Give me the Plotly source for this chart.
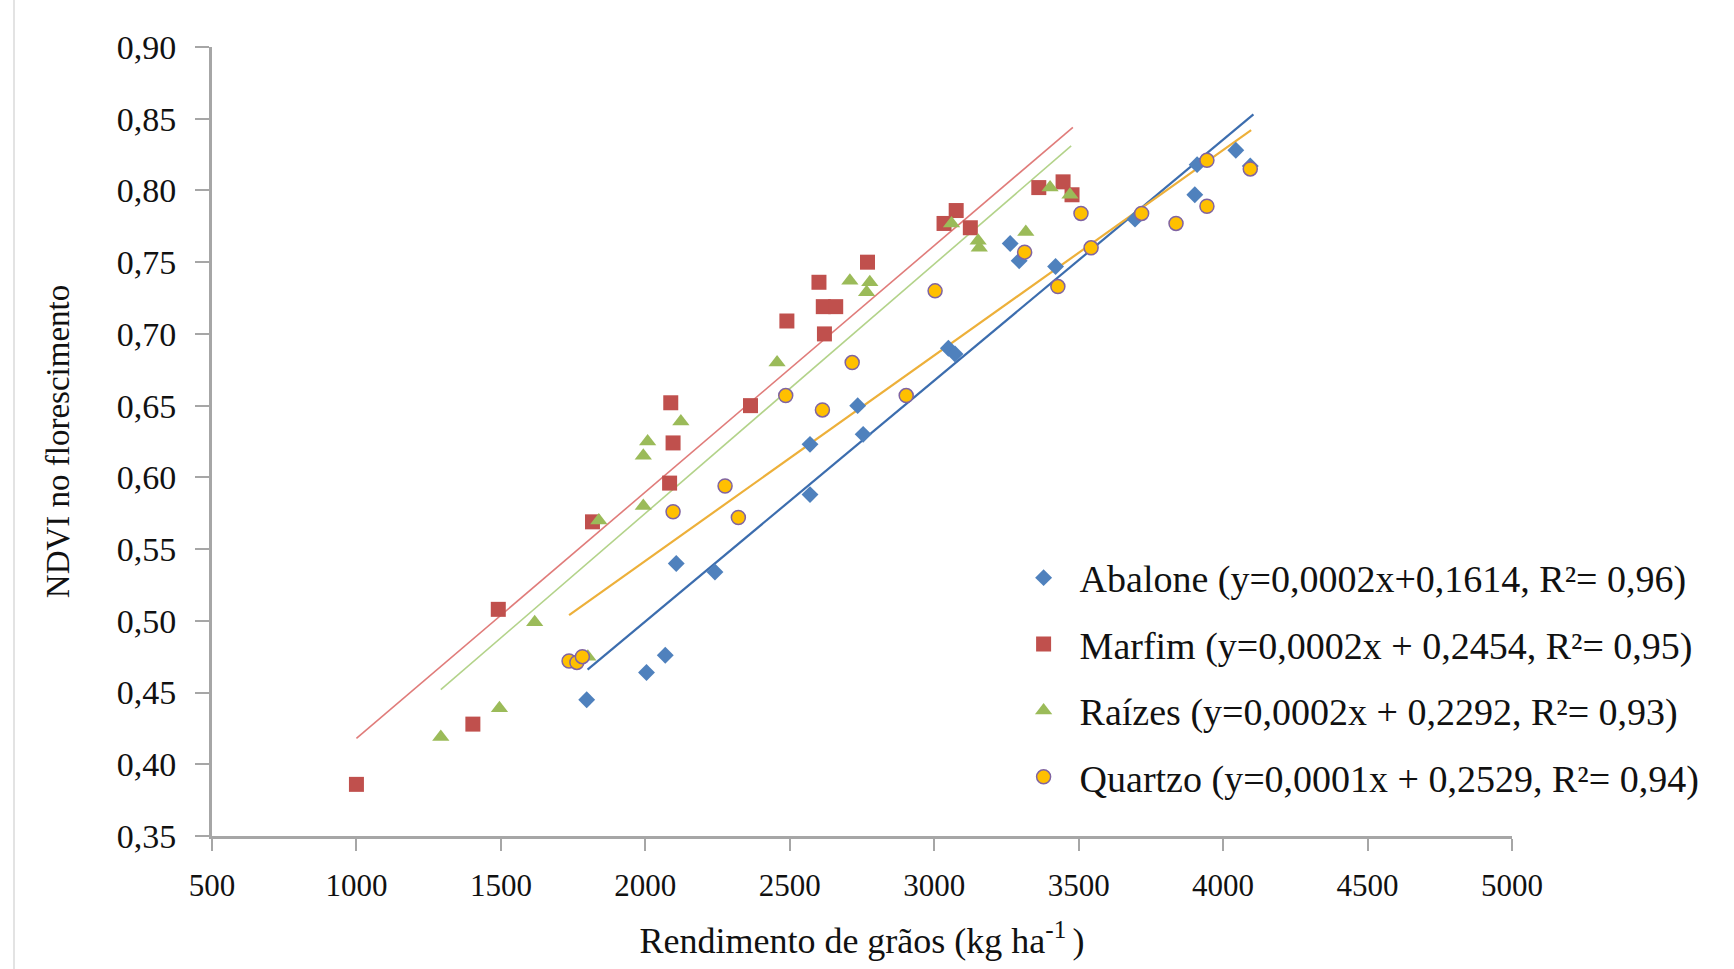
import plotly.graph_objects as go

# ---------------- data ----------------
abalone_x = [1797, 2004, 2069, 2107, 2241, 2570, 2570, 2735, 2754, 3049, 3072,
             3263, 3294, 3420, 3695, 3902, 3910, 4044, 4094]
abalone_y = [0.445, 0.464, 0.476, 0.540, 0.534, 0.623, 0.588, 0.650, 0.630, 0.690, 0.686,
             0.763, 0.751, 0.747, 0.780, 0.797, 0.818, 0.828, 0.817]

marfim_x = [1000, 1403, 1491, 1817, 2088, 2096, 2084, 2364, 2490, 2601, 2616, 2659,
            2620, 2769, 3034, 3076, 3125, 3362, 3446, 3477]
marfim_y = [0.386, 0.428, 0.508, 0.569, 0.652, 0.624, 0.596, 0.650, 0.709, 0.736, 0.719, 0.719,
            0.700, 0.750, 0.777, 0.786, 0.774, 0.802, 0.806, 0.797]

raizes_x = [1292, 1495, 1617, 1801, 1839, 1993, 1993, 2008, 2123, 2456, 2708, 2777, 2766,
            3060, 3152, 3156, 3317, 3401, 3470]
raizes_y = [0.419, 0.439, 0.499, 0.475, 0.570, 0.580, 0.615, 0.625, 0.639, 0.680, 0.737, 0.736, 0.729,
            0.777, 0.765, 0.760, 0.771, 0.802, 0.797]

quartzo_x = [1736, 1763, 1782, 2096, 2276, 2322, 2486, 2613, 2716, 2903, 3003, 3313, 3428,
             3508, 3543, 3718, 3837, 3944, 3944, 4094]
quartzo_y = [0.472, 0.471, 0.475, 0.576, 0.594, 0.572, 0.657, 0.647, 0.680, 0.657, 0.730, 0.757, 0.733,
             0.784, 0.760, 0.784, 0.777, 0.789, 0.821, 0.815]

# trend-line end points as drawn in the reference
abalone_trend_x = [1800, 4105]
abalone_trend_y = [0.466, 0.853]
marfim_trend_x = [1000, 3480]
marfim_trend_y = [0.418, 0.844]
raizes_trend_x = [1292, 3474]
raizes_trend_y = [0.452, 0.831]
quartzo_trend_x = [1736, 4097]
quartzo_trend_y = [0.504, 0.842]

legend_labels = [
    "Abalone (y=0,0002x+0,1614, R²= 0,96)",
    "Marfim (y=0,0002x + 0,2454, R²= 0,95)",
    "Raízes (y=0,0002x + 0,2292, R²= 0,93)",
    "Quartzo (y=0,0001x + 0,2529, R²= 0,94)",
]

x_ticks = [500, 1000, 1500, 2000, 2500, 3000, 3500, 4000, 4500, 5000]
y_ticks = [0.35, 0.40, 0.45, 0.50, 0.55, 0.60, 0.65, 0.70, 0.75, 0.80, 0.85, 0.90]
y_tick_text = ["0,35", "0,40", "0,45", "0,50", "0,55", "0,60", "0,65", "0,70",
               "0,75", "0,80", "0,85", "0,90"]

# ---------------- figure ----------------
FONT = "Liberation Serif"
fig = go.Figure()

series = [
    ("ab", abalone_x, abalone_y, abalone_trend_x, abalone_trend_y, legend_labels[0],
     dict(symbol="diamond", size=13, color="#4F81BD"), "#3C6DAE", 2.2),
    ("ma", marfim_x, marfim_y, marfim_trend_x, marfim_trend_y, legend_labels[1],
     dict(symbol="square", size=15, color="#C0504D"), "#E07C7A", 1.6),
    ("ra", raizes_x, raizes_y, raizes_trend_x, raizes_trend_y, legend_labels[2],
     dict(symbol="triangle-up", size=15, color="#9BBB59"), "#B3D38A", 1.6),
    ("qu", quartzo_x, quartzo_y, quartzo_trend_x, quartzo_trend_y, legend_labels[3],
     dict(symbol="circle", size=14, color="#FFC000", line=dict(color="#8064A2", width=1.5)),
     "#EDB03A", 2.2),
]

for grp, xs, ys, tx, ty, name, marker, lcol, lw in series:
    fig.add_trace(go.Scatter(x=tx, y=ty, mode="lines", line=dict(color=lcol, width=lw),
                             legendgroup=grp, showlegend=False, hoverinfo="skip"))

for grp, xs, ys, tx, ty, name, marker, lcol, lw in series:
    fig.add_trace(go.Scatter(x=xs, y=ys, mode="markers", marker=marker, name=name,
                             legendgroup=grp))

fig.update_layout(
    width=1734, height=969,
    margin=dict(l=212, r=222, t=47, b=133, pad=0),
    paper_bgcolor="white", plot_bgcolor="white",
    font=dict(family=FONT, size=31, color="#111111"),
    showlegend=True,
    legend=dict(
        x=0.612, y=0.367, xanchor="left", yanchor="top",
        bgcolor="rgba(0,0,0,0)", borderwidth=0,
        font=dict(family=FONT, size=38, color="#111111"),
        tracegroupgap=14, itemwidth=62,
    ),
    xaxis=dict(
        range=[500, 5000], tickvals=x_ticks, ticktext=[str(v) for v in x_ticks],
        showgrid=False, zeroline=False,
        showline=True, linecolor="#A6A6A6", linewidth=3,
        ticks="outside", ticklen=12, tickwidth=1.5, tickcolor="#A6A6A6",
        tickfont=dict(family=FONT, size=31), ticklabelstandoff=8,
        title=dict(text="Rendimento de grãos (kg ha<sup>-1 </sup>)",
                   font=dict(family=FONT, size=36), standoff=26),
    ),
    yaxis=dict(
        range=[0.35, 0.90], tickvals=y_ticks, ticktext=y_tick_text,
        showgrid=False, zeroline=False,
        showline=True, linecolor="#A6A6A6", linewidth=3,
        ticks="outside", ticklen=14, tickwidth=1.5, tickcolor="#A6A6A6",
        tickfont=dict(family=FONT, size=34), ticklabelstandoff=12,
        title=dict(text="NDVI no florescimento", font=dict(family=FONT, size=33), standoff=38),
    ),
    shapes=[dict(type="line", xref="paper", yref="paper", x0=-0.1523, x1=-0.1523,
                 y0=-0.17, y1=1.06, line=dict(color="#E3E3E3", width=2))],
)

fig.write_html("out.html")
